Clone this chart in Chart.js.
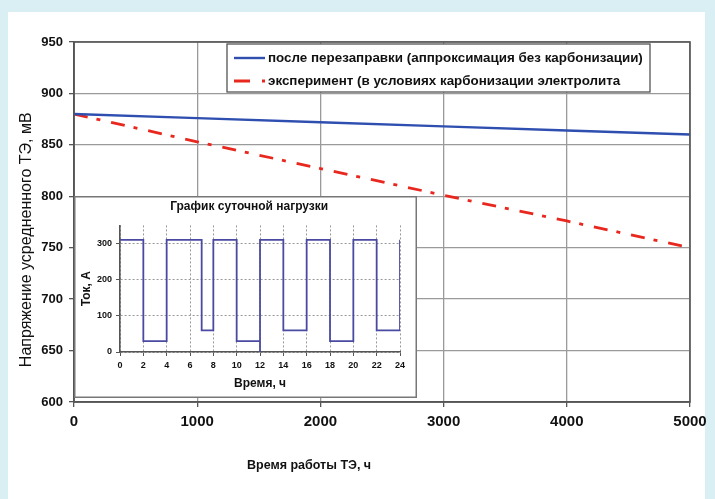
<!DOCTYPE html>
<html><head><meta charset="utf-8">
<script src="https://cdn.jsdelivr.net/npm/chart.js@4.4.1/dist/chart.umd.min.js"></script>
<style>
html,body{margin:0;padding:0;}
body{width:715px;height:499px;background:#d9eff3;position:relative;overflow:hidden;}
#sheet{position:absolute;left:8px;top:12px;width:697px;height:487px;background:#fff;}
#main{position:absolute;left:0;top:0;}
#inset{position:absolute;left:74px;top:196px;}
</style></head>
<body>
<div id="sheet"></div>
<canvas id="main" width="715" height="499"></canvas>
<canvas id="inset" width="343" height="202"></canvas>
<script>
// ---- data ----
const hours = [0, 1000, 2000, 3000, 4000, 5000];
const voltageRefuel = [880, 876, 872, 868, 864, 860];
const voltageExperiment = [880, 853, 827, 801, 776, 750];
const seriesLabels = ['после перезаправки (аппроксимация без карбонизации)', 'эксперимент (в условиях карбонизации электролита'];
const loadHours = [0, 2, 4, 7, 8, 10, 12, 12, 14, 16, 18, 20, 22, 24];
const loadCurrent = [310, 30, 310, 60, 310, 30, 0, 310, 60, 310, 30, 310, 60, 310];

const FONT = '"Liberation Sans", Arial, sans-serif';
Chart.defaults.font.family = FONT;
Chart.defaults.color = '#111';
const NB = '\u00a0';

const frame = {
  id: 'frame',
  afterDatasetsDraw(chart, args, opts) {
    const {ctx, chartArea: a} = chart;
    ctx.save();
    ctx.strokeStyle = opts.color || '#555';
    ctx.lineWidth = opts.width || 1.5;
    ctx.strokeRect(a.left, a.top, a.right - a.left, a.bottom - a.top);
    ctx.restore();
  }
};

const boxLegend = {
  id: 'boxLegend',
  afterDraw(chart) {
    const ctx = chart.ctx;
    const x0 = 227, y0 = 44, w = 423, h = 48;
    ctx.save();
    ctx.fillStyle = '#fff';
    ctx.fillRect(x0, y0, w, h);
    ctx.strokeStyle = '#555';
    ctx.lineWidth = 1.3;
    ctx.strokeRect(x0, y0, w, h);
    chart.data.datasets.forEach((ds, i) => {
      const y = i === 0 ? 58 : 81;
      ctx.strokeStyle = ds.borderColor;
      ctx.lineWidth = ds.borderWidth;
      ctx.setLineDash(i === 1 ? [16, 12, 4, 20] : []);
      ctx.beginPath();
      ctx.moveTo(234, y);
      ctx.lineTo(265, y);
      ctx.stroke();
      ctx.setLineDash([]);
      ctx.fillStyle = '#111';
      ctx.font = 'bold 13.4px ' + FONT;
      ctx.textBaseline = 'middle';
      ctx.fillText(ds.label, 268, y);
    });
    ctx.restore();
  }
};

new Chart(document.getElementById('main'), {
  type: 'line',
  data: {
    datasets: [
      {label: seriesLabels[0], data: hours.map((h, i) => ({x: h, y: voltageRefuel[i]})),
       borderColor: '#2f4fb0', borderWidth: 2.4, pointRadius: 0, tension: 0},
      {label: seriesLabels[1], data: hours.map((h, i) => ({x: h, y: voltageExperiment[i]})),
       borderColor: '#e8281e', borderWidth: 2.8, borderDash: [14, 9, 4, 11], pointRadius: 0, tension: 0}
    ]
  },
  options: {
    responsive: false, animation: false, devicePixelRatio: 1,
    layout: {padding: {left: 13, right: 25, top: 42, bottom: 22}},
    plugins: {legend: {display: false}, tooltip: {enabled: false}, frame: {color: '#555', width: 1.6}},
    scales: {
      x: {type: 'linear', min: 0, max: 5000,
        ticks: {stepSize: 1000, font: {size: 15, weight: 'bold'}, color: '#111', padding: 6, maxRotation: 0,
          callback: v => String(v)},
        grid: {color: '#9a9a9a', lineWidth: 1.3, tickLength: 5, tickColor: '#555'},
        border: {color: '#555', width: 1.6},
        title: {display: true, text: 'Время работы ТЭ, ч' + NB.repeat(42), font: {size: 12.5, weight: 'bold'}, color: '#111'},
        afterFit: s => { s.height = 75; }
      },
      y: {min: 600, max: 950,
        ticks: {stepSize: 50, font: {size: 13, weight: 'bold'}, color: '#111', padding: 6},
        grid: {color: '#9a9a9a', lineWidth: 1.3, tickLength: 5, tickColor: '#555'},
        border: {color: '#555', width: 1.6},
        title: {display: true, text: 'Напряжение усредненного ТЭ, мВ' + NB.repeat(8), font: {size: 16}, color: '#111'},
        afterFit: s => { s.width = 61; }
      }
    }
  },
  plugins: [frame, boxLegend]
});

const insetBg = {
  id: 'insetBg',
  beforeDraw(chart) {
    const ctx = chart.ctx;
    ctx.save();
    ctx.fillStyle = '#fff';
    ctx.fillRect(0, 0, chart.width, chart.height);
    ctx.strokeStyle = '#777';
    ctx.lineWidth = 1.5;
    ctx.strokeRect(0.75, 0.75, chart.width - 1.5, chart.height - 1.5);
    ctx.restore();
  }
};

new Chart(document.getElementById('inset'), {
  type: 'line',
  data: {
    datasets: [{label: 'Ток', data: loadHours.map((h, i) => ({x: h, y: loadCurrent[i]})),
      borderColor: '#4a4aa2', borderWidth: 1.8, pointRadius: 0, stepped: 'before'}]
  },
  options: {
    responsive: false, animation: false, devicePixelRatio: 1,
    layout: {padding: {left: 1, right: 17, top: 0, bottom: 3}},
    plugins: {
      legend: {display: false}, tooltip: {enabled: false},
      title: {display: true, text: NB.repeat(7) + 'График суточной нагрузки', font: {size: 12, weight: 'bold'}, color: '#111', padding: {top: 3, bottom: 12}}
    },
    scales: {
      x: {type: 'linear', min: 0, max: 24,
        ticks: {stepSize: 2, font: {size: 9, weight: 'bold'}, color: '#111', padding: 4, maxRotation: 0},
        grid: {color: '#999', lineWidth: 1, tickLength: 4, tickColor: '#555'},
        border: {color: '#555', width: 1.6, dash: [2, 2]},
        title: {display: true, text: 'Время, ч', font: {size: 12, weight: 'bold'}, color: '#111'},
        afterFit: s => { s.height = 43; }
      },
      y: {min: 0, max: 350,
        afterBuildTicks: s => { s.ticks = s.ticks.filter(t => t.value % 100 === 0); },
        ticks: {stepSize: 100, font: {size: 9, weight: 'bold'}, color: '#111', padding: 4},
        grid: {color: '#999', lineWidth: 1, tickLength: 4, tickColor: '#555'},
        border: {color: '#555', width: 1.6, dash: [2, 2]},
        title: {display: true, text: 'Ток, А', font: {size: 12, weight: 'bold'}, color: '#111'},
        afterFit: s => { s.width = 45; }
      }
    }
  },
  plugins: [insetBg]
});
</script>
</body></html>
